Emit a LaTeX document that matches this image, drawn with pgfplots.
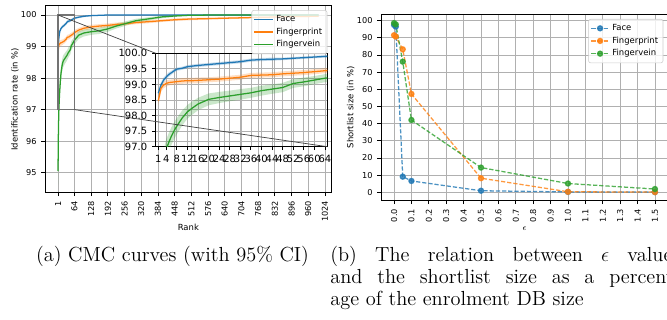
\documentclass[border=0pt]{standalone}
\usepackage{fontspec}
\usepackage{pgfplots}
\usepackage{pgfplotstable}
\pgfplotsset{compat=1.18}
\usepgfplotslibrary{fillbetween}
\newfontfamily\dejavu{DejaVu Sans}
\newcommand\tfont{\dejavu\fontsize{5.8}{7}\selectfont}
\newcommand\lfont{\dejavu\fontsize{6}{7.2}\selectfont}
\newcommand\ifont{\dejavu\fontsize{7.1}{8.5}\selectfont}
\definecolor{tabblue}{RGB}{31,119,180}
\definecolor{taborange}{RGB}{255,127,14}
\definecolor{tabgreen}{RGB}{44,160,44}
\definecolor{gridgray}{RGB}{176,176,176}

\pgfplotstableread{
r f fe p pe v ve
1 98.72 0.10 98.48 0.15 95.05 0.42
2 98.98 0.09 98.88 0.12 96.05 0.38
3 99.14 0.08 98.98 0.10 96.55 0.35
4 99.24 0.07 99.03 0.10 96.92 0.32
5 99.32 0.07 99.06 0.09 97.15 0.30
6 99.38 0.06 99.07 0.09 97.35 0.28
7 99.44 0.06 99.08 0.09 97.52 0.27
8 99.49 0.05 99.09 0.09 97.66 0.26
10 99.52 0.05 99.11 0.09 97.92 0.24
12 99.57 0.05 99.12 0.09 98.12 0.22
14 99.59 0.05 99.12 0.09 98.25 0.21
16 99.61 0.05 99.13 0.09 98.37 0.20
20 99.64 0.05 99.15 0.08 98.52 0.19
24 99.67 0.05 99.17 0.08 98.58 0.18
28 99.70 0.05 99.20 0.08 98.63 0.17
32 99.73 0.05 99.23 0.08 98.68 0.17
36 99.78 0.05 99.29 0.08 98.73 0.16
40 99.80 0.05 99.30 0.08 98.80 0.16
44 99.81 0.05 99.31 0.08 98.85 0.15
48 99.82 0.04 99.34 0.08 98.90 0.15
52 99.84 0.04 99.36 0.08 99.03 0.14
56 99.86 0.04 99.38 0.08 99.08 0.14
60 99.88 0.04 99.41 0.08 99.14 0.13
64 99.90 0.04 99.44 0.08 99.20 0.13
80 99.93 0.03 99.52 0.07 99.36 0.12
100 99.96 0.03 99.58 0.07 99.43 0.11
128 99.98 0.02 99.62 0.07 99.47 0.10
160 99.99 0.01 99.65 0.06 99.50 0.10
192 100.00 0.01 99.67 0.06 99.56 0.09
224 100.00 0.01 99.70 0.06 99.65 0.08
256 100.00 0.01 99.72 0.05 99.72 0.07
300 100.00 0.01 99.76 0.05 99.82 0.06
350 100.00 0.01 99.79 0.05 99.88 0.05
400 100.00 0.01 99.82 0.04 99.94 0.04
450 100.00 0.01 99.85 0.04 99.97 0.03
500 100.00 0.01 99.87 0.04 99.99 0.02
600 100.00 0.01 99.89 0.03 100.00 0.01
700 100.00 0.01 99.91 0.03 100.00 0.01
800 100.00 0.01 99.93 0.02 100.00 0.01
900 100.00 0.01 99.95 0.02 100.00 0.01
1000 100.00 0.01 99.96 0.02 100.00 0.01
}\cmc

\pgfplotsset{
  mplstyle/.style={
    scale only axis,
    tick pos=left,
    tick align=outside,
    major tick length=2.5pt,
    grid=major,
    major grid style={draw=gridgray, line width=0.55pt},
    axis line style={line width=0.6pt},
    every tick/.style={black, line width=0.6pt},
    /pgf/number format/assume math mode=true,
    /pgf/number format/1000 sep={},
    ticklabel style={font=\tfont},
    label style={font=\lfont},
  },
  mpllegend/.style={
    legend cell align=left,
    legend style={font=\lfont, draw=black!20, fill=white, fill opacity=0.8,
      draw opacity=1, text opacity=1, rounded corners=1.5pt,
      at={(1,1)}, anchor=north east, inner sep=1.5pt,
      row sep=-1pt},
  },
}

\begin{document}
\begin{tikzpicture}

% ---------- main CMC axis ----------
\begin{axis}[mplstyle, mpllegend,
  at={(1.125cm,7.8575cm)}, anchor=north west,
  width=7.1675cm, height=4.675cm,
  xmin=-48.95, xmax=1049.95, ymin=94.366, ymax=100.295,
  xtick={1,64,128,192,256,320,384,448,512,576,640,704,768,832,896,960,1024},
  ytick={95,96,97,98,99,100},
  xticklabel style={rotate=90, anchor=east},
  xlabel={Rank}, ylabel={Identification rate (in \%)},
  xlabel style={at={(axis description cs:0.5,-0.185)}, anchor=center},
  ylabel style={at={(axis description cs:-0.105,0.5)}, anchor=center},
  legend style={xshift=-0.11cm, yshift=-0.11cm},
  legend image code/.code={\draw[#1] (0cm,0cm) -- (0.46cm,0cm);},
]
\addplot[draw=none, name path=fU, forget plot] table[x=r, y expr=\thisrow{f}+\thisrow{fe}] {\cmc};
\addplot[draw=none, name path=fL, forget plot] table[x=r, y expr=\thisrow{f}-\thisrow{fe}] {\cmc};
\addplot[fill=tabblue, fill opacity=0.25, draw=none, forget plot] fill between[of=fU and fL];
\addplot[tabblue, line width=0.9pt, forget plot] table[x=r, y=f] {\cmc};
\addplot[draw=none, name path=pU, forget plot] table[x=r, y expr=\thisrow{p}+\thisrow{pe}] {\cmc};
\addplot[draw=none, name path=pL, forget plot] table[x=r, y expr=\thisrow{p}-\thisrow{pe}] {\cmc};
\addplot[fill=taborange, fill opacity=0.25, draw=none, forget plot] fill between[of=pU and pL];
\addplot[taborange, line width=0.9pt, forget plot] table[x=r, y=p] {\cmc};
\addplot[draw=none, name path=vU, forget plot] table[x=r, y expr=\thisrow{v}+\thisrow{ve}] {\cmc};
\addplot[draw=none, name path=vL, forget plot] table[x=r, y expr=\thisrow{v}-\thisrow{ve}] {\cmc};
\addplot[fill=tabgreen, fill opacity=0.25, draw=none, forget plot] fill between[of=vU and vL];
\addplot[tabgreen, line width=0.9pt, forget plot] table[x=r, y=v] {\cmc};
\addlegendimage{tabblue, line width=0.9pt}
\addlegendentry{Face}
\addlegendimage{taborange, line width=0.9pt}
\addlegendentry{Fingerprint}
\addlegendimage{tabgreen, line width=0.9pt}
\addlegendentry{Fingervein}
\draw[black!55, line width=0.9pt] (axis cs:1,97) rectangle (axis cs:64,100);
\coordinate (rTL) at (axis cs:1,100);
\coordinate (rBR) at (axis cs:64,97);
\end{axis}

% ---------- inset ----------
\begin{axis}[mplstyle,
  at={(3.8925cm,6.6675cm)}, anchor=north west,
  width=4.29cm, height=2.335cm,
  axis background/.style={fill=white},
  xmin=0, xmax=64.9, ymin=97, ymax=100,
  xtick={1,4,8,12,16,20,24,28,32,36,40,44,48,52,56,60,64},
  ytick={97,97.5,98,98.5,99,99.5,100},
  ticklabel style={font=\ifont},
  yticklabel style={/pgf/number format/.cd, fixed, fixed zerofill, precision=1},
]
\addplot[draw=none, name path=ifU, forget plot] table[x=r, y expr=\thisrow{f}+\thisrow{fe}] {\cmc};
\addplot[draw=none, name path=ifL, forget plot] table[x=r, y expr=\thisrow{f}-\thisrow{fe}] {\cmc};
\addplot[fill=tabblue, fill opacity=0.25, draw=none] fill between[of=ifU and ifL];
\addplot[tabblue, line width=0.9pt] table[x=r, y=f] {\cmc};
\addplot[draw=none, name path=ipU, forget plot] table[x=r, y expr=\thisrow{p}+\thisrow{pe}] {\cmc};
\addplot[draw=none, name path=ipL, forget plot] table[x=r, y expr=\thisrow{p}-\thisrow{pe}] {\cmc};
\addplot[fill=taborange, fill opacity=0.25, draw=none] fill between[of=ipU and ipL];
\addplot[taborange, line width=0.9pt] table[x=r, y=p] {\cmc};
\addplot[draw=none, name path=ivU, forget plot] table[x=r, y expr=\thisrow{v}+\thisrow{ve}] {\cmc};
\addplot[draw=none, name path=ivL, forget plot] table[x=r, y expr=\thisrow{v}-\thisrow{ve}] {\cmc};
\addplot[fill=tabgreen, fill opacity=0.25, draw=none] fill between[of=ivU and ivL];
\addplot[tabgreen, line width=0.9pt] table[x=r, y=v] {\cmc};
\coordinate (iTL) at (rel axis cs:0,1);
\coordinate (iBR) at (rel axis cs:1,0);
\end{axis}
\draw[black!75, line width=0.5pt] (rTL) -- (iTL);
\draw[black!75, line width=0.5pt] (rBR) -- (iBR);

% ---------- epsilon vs shortlist ----------
\begin{axis}[mplstyle, mpllegend,
  at={(9.525cm,7.6425cm)}, anchor=north west,
  width=7.175cm, height=4.66cm,
  xmin=-0.075, xmax=1.575, ymin=-4.9, ymax=103.7,
  xtick={0,0.1,0.2,0.3,0.4,0.5,0.6,0.7,0.8,0.9,1.0,1.1,1.2,1.3,1.4,1.5},
  ytick={0,10,20,30,40,50,60,70,80,90,100},
  xticklabel style={rotate=90, anchor=east, /pgf/number format/.cd, fixed, fixed zerofill, precision=1},
  xlabel={$\epsilon$}, ylabel={Shortlist size (in \%)},
  xlabel style={at={(axis description cs:0.5,-0.152)}, anchor=center},
  ylabel style={at={(axis description cs:-0.1056,0.5)}, anchor=center},
  legend style={xshift=-0.1175cm, yshift=-0.1175cm},
  legend image code/.code={\draw[mark repeat=2, mark phase=2, #1] plot coordinates {(0cm,0cm) (0.22cm,0cm) (0.44cm,0cm)};},
  every axis plot/.append style={line width=0.9pt, dash pattern=on 3pt off 1.4pt, mark=*, mark size=1.8pt, mark options={solid}, opacity=0.8},
]
\addplot[tabblue] coordinates {(0,97.5) (0.01,96.5) (0.05,9.1) (0.1,6.6) (0.5,0.9) (1.0,0.2) (1.5,0.1)};
\addlegendentry{Face}
\addplot[taborange] coordinates {(0,91.5) (0.01,90.7) (0.05,83.3) (0.1,57.3) (0.5,8.2) (1.0,0.3) (1.5,0.1)};
\addlegendentry{Fingerprint}
\addplot[tabgreen] coordinates {(0,98.6) (0.01,97.8) (0.05,76.1) (0.1,42.1) (0.5,14.4) (1.0,5.1) (1.5,1.9)};
\addlegendentry{Fingervein}
\end{axis}

% ---------- captions ----------
\begin{scope}[every node/.style={inner sep=0pt, font=\fontsize{14.5}{15.6}\selectfont}]
\node[anchor=base] at (4.3125cm,1.45cm) {(a) CMC curves (with 95\% CI)};
\node[anchor=base west] at (8.25cm,1.45cm) {\makebox[8.75cm][s]{(b) The relation between $\epsilon$ values}};
\node[anchor=base west] at (8.25cm,0.9cm) {\makebox[8.75cm][s]{and the shortlist size as a percent-}};
\node[anchor=base west] at (8.25cm,0.35cm) {age of the enrolment DB size};
\end{scope}
\pgfresetboundingbox
\useasboundingbox (0,0) rectangle (16.675cm,8cm);
\end{tikzpicture}
\end{document}
